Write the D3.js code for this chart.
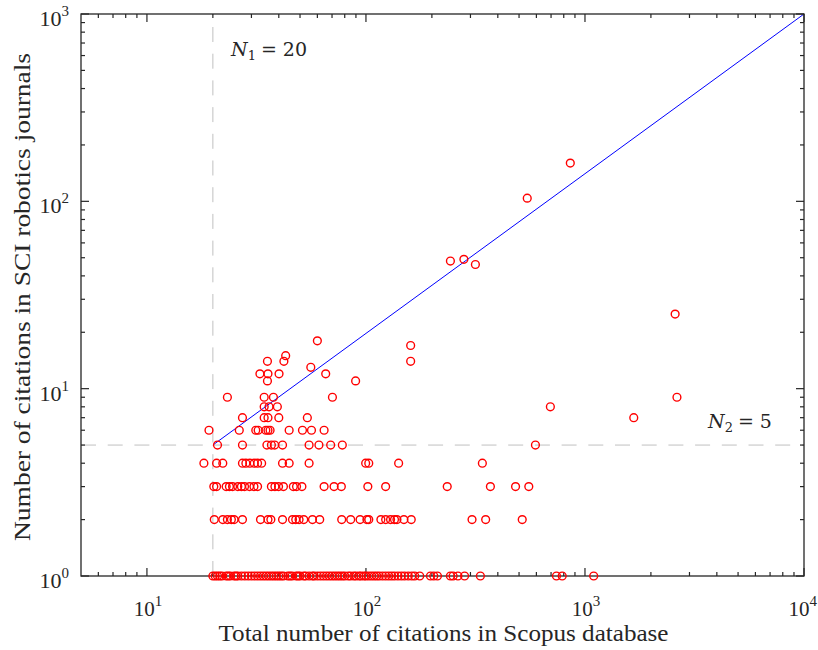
<!DOCTYPE html>
<html>
<head>
<meta charset="utf-8">
<script src="https://cdn.jsdelivr.net/npm/d3@7/dist/d3.min.js"></script>
<style>
  html, body { margin: 0; padding: 0; background: #fff; }
  svg { display: block; }
  text { font-family: "Liberation Serif", "Times New Roman", serif; fill: #262626; }
</style>
</head>
<body>
<svg id="chart" width="818" height="650"></svg>
<script>
// ---- Data: Scopus citations (x) grouped by SCI-robotics citations (y) ----
const sciLevels = [1, 2, 3, 4, 5, 6, 7, 8, 9, 11, 12, 13, 14, 15, 17, 18, 25, 46, 48, 49, 104, 160];
const scopusAt1 = [20, 20.5, 21, 21.5, 22, 23, 23.5, 24, 25, 25.5, 26, 27, 28, 29, 30, 31, 32, 33, 34, 35, 36, 37, 38, 39, 40, 41, 42, 44, 45, 46, 48, 49, 50, 52, 53, 55, 57, 58, 60, 62, 64, 66, 68, 70, 72, 74, 76, 78, 80, 83, 85, 88, 90, 93, 95, 98, 100, 103, 106, 109, 112, 115, 119, 123, 127, 131, 135, 140, 145, 150, 156, 162, 167, 176, 197, 204, 212, 243, 250, 263, 282, 333, 741, 787, 1096];
const scopusAt2 = [20.3, 22.2, 23.3, 24.3, 25, 27.3, 33, 35.7, 36.8, 41.6, 46.2, 47.8, 49.5, 52, 57, 61.5, 77.5, 85.2, 94, 101, 103, 117, 123, 129.5, 135, 138.5, 149, 161, 305, 352, 517];
const scopusAt3 = [20.2, 20.8, 23, 23.8, 24.6, 26, 27, 27.9, 29.4, 30.8, 32, 37, 38.4, 39.9, 42, 46.6, 48.2, 51, 64.4, 71.5, 77.2, 102, 123, 235, 370, 482, 554];
const scopusAt4 = [18.2, 20.8, 22.2, 27.3, 28.3, 29.5, 30.9, 32, 33.4, 41.6, 44.6, 55, 99.7, 103, 141, 340];
const scopusAt5 = [21, 27.3, 35.3, 37, 38.3, 41.6, 55, 61, 69, 78, 594];
const scopusAt6 = [19.2, 26.4, 31.4, 32.2, 34.9, 35.7, 36.5, 44.6, 51.3, 56.4, 64.4];
const scopusAt7 = [27.3, 34.3, 35.7, 40, 54, 1670];
const scopusAt8 = [34.3, 36.1, 39.4, 695];
const scopusAt9 = [23.3, 34.3, 37.8, 70.3, 2630];
const scopusAt11 = [35.5, 89.7];
const scopusAt12 = [32.8, 35.7, 40.1, 65.5];
const scopusAt13 = [56];
const scopusAt14 = [35.5, 42.2, 160];
const scopusAt15 = [43];
const scopusAt17 = [160];
const scopusAt18 = [60];
const scopusAt25 = [2580];
const scopusAt46 = [316];
const scopusAt48 = [243];
const scopusAt49 = [280];
const scopusAt104 = [545];
const scopusAt160 = [857];
const scopusByLevel = [scopusAt1, scopusAt2, scopusAt3, scopusAt4, scopusAt5, scopusAt6, scopusAt7, scopusAt8, scopusAt9,
  scopusAt11, scopusAt12, scopusAt13, scopusAt14, scopusAt15, scopusAt17, scopusAt18, scopusAt25, scopusAt46, scopusAt48,
  scopusAt49, scopusAt104, scopusAt160];

// Threshold lines and reference line
const N1 = 20;
const N2 = 5;
const refLine = [[20, 5], [10000, 1000]];

// Axis domains and tick labels
const xDomain = [5, 10000];
const yDomain = [1, 1000];
const xMajor = [10, 100, 1000, 10000];
const xMajorExp = ["1", "2", "3", "4"];
const yMajor = [1, 10, 100, 1000];
const yMajorExp = ["0", "1", "2", "3"];
const xTitle = "Total number of citations in Scopus database";
const yTitle = "Number of citations in SCI robotics journals";

// ---- Layout ----
const L = 81, R = 804, T = 14, B = 576;
const svg = d3.select("#chart");
const x = d3.scaleLog().domain(xDomain).range([L, R]);
const y = d3.scaleLog().domain(yDomain).range([B, T]);

const points = [];
sciLevels.forEach((lv, i) => scopusByLevel[i].forEach(v => points.push({ x: v, y: lv })));

const axisColor = "#262626";

// dashed threshold lines
svg.append("line")
  .attr("x1", x(N1)).attr("x2", x(N1)).attr("y1", B).attr("y2", T)
  .attr("stroke", "#c0c0c0").attr("stroke-width", 1).attr("stroke-dasharray", "15,11.7");
svg.append("line")
  .attr("x1", L).attr("x2", R).attr("y1", y(N2)).attr("y2", y(N2))
  .attr("stroke", "#c0c0c0").attr("stroke-width", 1).attr("stroke-dasharray", "15,11.7");

// reference line
svg.append("path")
  .attr("d", d3.line().x(d => x(d[0])).y(d => y(d[1]))(refLine))
  .attr("stroke", "#0000ff").attr("stroke-width", 1).attr("fill", "none");

// ---- Axes (box with inward ticks) ----
const xMinor = x.ticks().filter(v => xMajor.indexOf(v) < 0 && v > xDomain[0] && v < xDomain[1]);
const yMinor = y.ticks().filter(v => yMajor.indexOf(v) < 0 && v > yDomain[0] && v < yDomain[1]);

const axG = svg.append("g");
function ticks(vals, len, side) {
  vals.forEach(v => {
    if (side === "bottom") axG.append("line").attr("x1", x(v)).attr("x2", x(v)).attr("y1", B).attr("y2", B - len);
    if (side === "top") axG.append("line").attr("x1", x(v)).attr("x2", x(v)).attr("y1", T).attr("y2", T + len);
    if (side === "left") axG.append("line").attr("y1", y(v)).attr("y2", y(v)).attr("x1", L).attr("x2", L + len);
    if (side === "right") axG.append("line").attr("y1", y(v)).attr("y2", y(v)).attr("x1", R).attr("x2", R - len);
  });
}
ticks(xMinor, 4, "bottom"); ticks(xMinor, 4, "top");
ticks(xMajor, 8, "bottom"); ticks(xMajor, 8, "top");
ticks(yMinor, 4, "left"); ticks(yMinor, 4, "right");
ticks(yMajor, 8, "left"); ticks(yMajor, 8, "right");
axG.selectAll("line").attr("stroke", axisColor).attr("stroke-width", 1.2);
axG.append("rect").attr("x", L).attr("y", T).attr("width", R - L).attr("height", B - T)
  .attr("fill", "none").attr("stroke", axisColor).attr("stroke-width", 1.3);

// tick labels
xMajor.forEach((v, i) => {
  const last = i === xMajor.length - 1;
  const t = svg.append("text").attr("x", last ? 817 : x(v) + 1).attr("y", 616)
    .attr("text-anchor", last ? "end" : "middle").style("font-size", "21px");
  t.append("tspan").text("10");
  t.append("tspan").attr("dy", -10).style("font-size", "15px").text(xMajorExp[i]);
});
yMajor.forEach((v, i) => {
  const t = svg.append("text").attr("x", 69).attr("y", y(v) + 12).attr("text-anchor", "end").style("font-size", "22px");
  t.append("tspan").text("10");
  t.append("tspan").attr("dy", -10).style("font-size", "15px").text(yMajorExp[i]);
});

// axis titles
svg.append("text").attr("x", (L + R) / 2 + 1).attr("y", 641).attr("text-anchor", "middle")
  .attr("textLength", 450).attr("lengthAdjust", "spacingAndGlyphs")
  .style("font-size", "24px").text(xTitle);
svg.append("text").attr("transform", `translate(30,${(T + B) / 2 + 2}) rotate(-90)`).attr("text-anchor", "middle")
  .attr("textLength", 488).attr("lengthAdjust", "spacingAndGlyphs")
  .style("font-size", "24px").text(yTitle);

// annotations
function annot(px, py, sub, rest) {
  const t = svg.append("text").attr("x", px).attr("y", py).style("font-size", "19px")
    .style("font-family", "'DejaVu Serif', serif");
  t.append("tspan").style("font-style", "italic").text("N");
  t.append("tspan").attr("dy", 4).style("font-size", "13px").text(sub);
  t.append("tspan").attr("dy", -4).attr("dx", 5).text("= " + rest);
}
annot(231, 56, "1", "20");
annot(708, 428, "2", "5");

// ---- Points ----
svg.append("g").selectAll("circle").data(points).join("circle")
  .attr("cx", d => x(d.x)).attr("cy", d => y(d.y)).attr("r", 3.9)
  .attr("fill", "none").attr("stroke", "#ff0000").attr("stroke-width", 1.4);
</script>
</body>
</html>
